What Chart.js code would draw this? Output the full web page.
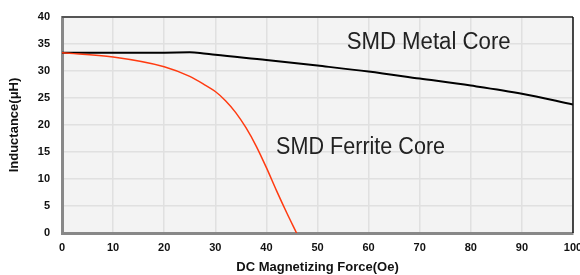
<!DOCTYPE html>
<html><head><meta charset="utf-8">
<script src="https://cdn.jsdelivr.net/npm/chart.js@4/dist/chart.umd.min.js"></script>
<style>html,body{margin:0;padding:0;background:#fff}#wrap{width:580px;height:275px}</style>
</head><body><div id="wrap"><canvas id="c"></canvas></div>
<script>
const metalX = [0, 10, 20, 25, 27, 30, 40, 50, 60, 70, 80, 90, 100];
const metalY = [33.4, 33.4, 33.4, 33.45, 33.35, 33.0, 32.05, 31.0, 29.9, 28.6, 27.3, 25.8, 23.8];
const ferriteX = [0, 10, 20, 25, 28, 30, 32, 34, 36, 38, 40, 42, 44, 45.9];
const ferriteY = [33.4, 32.6, 30.8, 29.0, 27.4, 26.2, 24.5, 22.3, 19.5, 16.1, 12.1, 7.8, 3.7, 0];
const xTicks = [0, 10, 20, 30, 40, 50, 60, 70, 80, 90, 100];
const yTicks = [0, 5, 10, 15, 20, 25, 30, 35, 40];
const labels = [
  {text: 'SMD Metal Core', x: 55.7, y: 34.1, w: 164},
  {text: 'SMD Ferrite Core', x: 41.9, y: 14.7, w: 169}
];
const xTitle = 'DC Magnetizing Force(Oe)';
const yTitle = 'Inductance(μH)';

const pts = (xs, ys) => xs.map((x, i) => ({x, y: ys[i]}));

const bgPlugin = {
  id: 'bg',
  beforeDraw(chart) {
    const {ctx, chartArea: a} = chart;
    ctx.save(); ctx.fillStyle = '#f3f3f3';
    ctx.fillRect(a.left, a.top, a.right - a.left, a.bottom - a.top);
    ctx.restore();
  },
  afterDatasetsDraw(chart) {
    const {ctx, chartArea: a, scales} = chart;
    ctx.save();
    ctx.strokeStyle = '#555'; ctx.lineWidth = 2;
    ctx.beginPath(); ctx.moveTo(a.left, a.top); ctx.lineTo(a.right, a.top); ctx.stroke();
    ctx.strokeStyle = '#111'; ctx.lineWidth = 1.5;
    ctx.beginPath(); ctx.moveTo(a.right, a.top); ctx.lineTo(a.right, a.bottom); ctx.stroke();
    ctx.fillStyle = '#222';
    ctx.font = '23px "Liberation Sans", Arial, sans-serif';
    ctx.textBaseline = 'alphabetic';
    labels.forEach(l => {
      ctx.fillText(l.text, scales.x.getPixelForValue(l.x), scales.y.getPixelForValue(l.y), l.w);
    });
    ctx.restore();
  }
};

new Chart(document.getElementById('c'), {
  type: 'scatter',
  data: {
    datasets: [
      {data: pts(ferriteX, ferriteY), showLine: true, borderColor: '#ff3a10', borderWidth: 1.5, pointRadius: 0, cubicInterpolationMode: 'monotone'},
      {data: pts(metalX, metalY), showLine: true, borderColor: '#000', borderWidth: 2, pointRadius: 0, cubicInterpolationMode: 'monotone'}
    ]
  },
  options: {
    responsive: true, maintainAspectRatio: false, animation: false,
    layout: {padding: {top: 17, right: 7, left: 0, bottom: 0}},
    plugins: {legend: {display: false}, tooltip: {enabled: false}},
    scales: {
      x: {
        type: 'linear', min: 0, max: 100,
        afterBuildTicks: s => { s.ticks = xTicks.map(v => ({value: v})); },
        afterFit: s => { s.height = 42; s.paddingLeft = 0; s.paddingRight = 0; },
        grid: {color: '#e0e0e0', lineWidth: 1.5, drawTicks: false},
        border: {color: '#888', width: 3},
        ticks: {padding: 8, color: '#111', font: {family: '"Liberation Sans", Arial', size: 11, weight: 'bold'}, maxRotation: 0},
        title: {display: true, text: xTitle, color: '#111', padding: {top: 0, bottom: 0}, font: {family: '"Liberation Sans", Arial', size: 13, weight: 'bold'}}
      },
      y: {
        type: 'linear', min: 0, max: 40,
        afterBuildTicks: s => { s.ticks = yTicks.map(v => ({value: v})); },
        afterFit: s => { s.width = 62; s.paddingTop = 0; s.paddingBottom = 0; },
        grid: {color: '#e0e0e0', lineWidth: 1.5, drawTicks: false},
        border: {color: '#888', width: 3},
        ticks: {padding: 12, color: '#111', font: {family: '"Liberation Sans", Arial', size: 11, weight: 'bold'}},
        title: {display: true, text: yTitle, color: '#111', padding: {top: 7, bottom: 0}, font: {family: '"Liberation Sans", Arial', size: 13, weight: 'bold'}}
      }
    }
  },
  plugins: [bgPlugin]
});
</script>
</body></html>
